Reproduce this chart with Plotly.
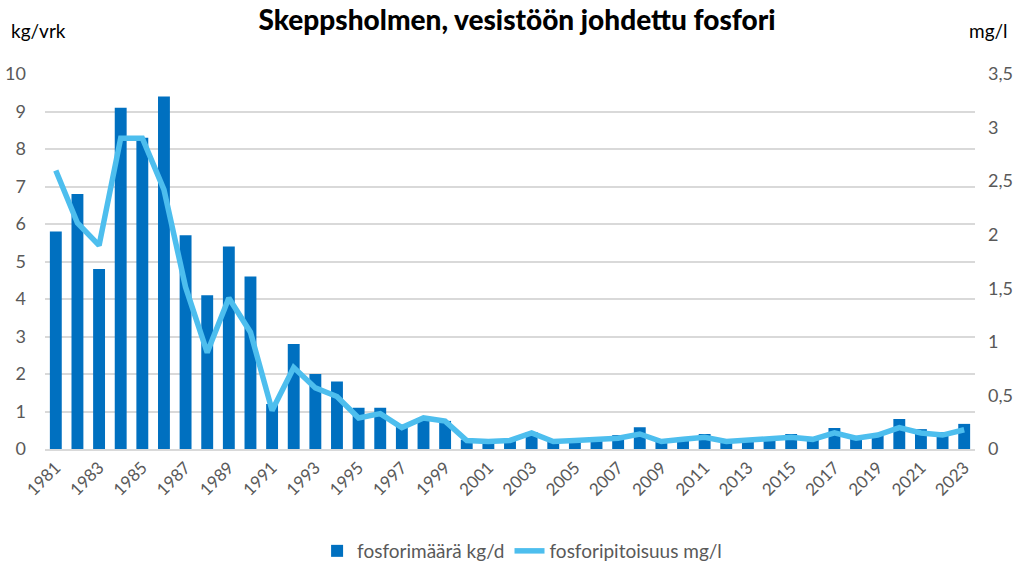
import plotly.graph_objects as go

years = [str(y) for y in range(1981, 2024)]
fosforimaara = [5.8, 6.8, 4.8, 9.1, 8.3, 9.4, 5.7, 4.1, 5.4, 4.6,
                1.2, 2.8, 2.0, 1.8, 1.1, 1.1, 0.65, 0.8, 0.75, 0.25,
                0.2, 0.25, 0.45, 0.2, 0.25, 0.3, 0.37, 0.58, 0.25, 0.3,
                0.4, 0.25, 0.25, 0.3, 0.4, 0.3, 0.56, 0.35, 0.4, 0.8,
                0.53, 0.45, 0.67]
fosforipitoisuus = [2.6, 2.11, 1.9, 2.9, 2.9, 2.42, 1.51, 0.9, 1.41, 1.09,
                    0.36, 0.76, 0.57, 0.49, 0.29, 0.33, 0.2, 0.29, 0.26, 0.08,
                    0.07, 0.08, 0.15, 0.07, 0.08, 0.09, 0.1, 0.14, 0.07, 0.09,
                    0.11, 0.07, 0.08, 0.1, 0.11, 0.09, 0.15, 0.1, 0.13, 0.2,
                    0.15, 0.13, 0.18]
tick_years = [str(y) for y in range(1981, 2024, 2)]

FONT = "Lato"
GRAY = "#595959"

fig = go.Figure()
fig.add_trace(go.Bar(x=years, y=fosforimaara, name="fosforimäärä kg/d",
                     marker=dict(color="#0070C0", line=dict(width=0)), yaxis="y"))
fig.add_trace(go.Scatter(x=years, y=fosforipitoisuus, name="fosforipitoisuus mg/l",
                         mode="lines", line=dict(color="#4DBEEE", width=5.5), yaxis="y2"))

fig.update_layout(
    width=1028, height=568,
    paper_bgcolor="white", plot_bgcolor="white",
    margin=dict(l=45, r=53, t=74, b=119, autoexpand=False),
    separators=", ",
    font=dict(family=FONT, color=GRAY, size=16),
    bargap=0.45,
    title=dict(text="Skeppsholmen, vesistöön johdettu fosfori",
               x=0.503, xanchor="center", y=0.965, yanchor="middle",
               font=dict(family=FONT, size=28, color="black", weight=900)),
    xaxis=dict(type="category", tickmode="array", tickvals=tick_years, ticktext=tick_years,
               tickangle=-45, showgrid=False, showline=True, linecolor="#D9D9D9", linewidth=2,
               ticks="", automargin=False, tickfont=dict(size=17, color=GRAY)),
    yaxis=dict(range=[0, 10], dtick=1, showgrid=True, gridcolor="#D9D9D9", gridwidth=1.5,
               zeroline=False, ticks="", ticklabelstandoff=18, automargin=False,
               tickfont=dict(size=18, color=GRAY)),
    yaxis2=dict(range=[0, 3.5], dtick=0.5, overlaying="y", side="right", showgrid=False,
                zeroline=False, ticks="", ticklabelstandoff=12, automargin=False,
                tickfont=dict(size=18, color=GRAY)),
    legend=dict(orientation="h", x=0.513, xanchor="center", y=-0.272, yanchor="middle",
                font=dict(size=19, color=GRAY), traceorder="normal"),
    annotations=[
        dict(text="kg/vrk", xref="paper", yref="paper", x=-0.0075, y=1.117, xanchor="center",
             yanchor="middle", showarrow=False, font=dict(size=19, color="black")),
        dict(text="mg/l", xref="paper", yref="paper", x=1.015, y=1.117, xanchor="center",
             yanchor="middle", showarrow=False, font=dict(size=19, color="black")),
    ],
)

fig.write_html("out.html", config={"displayModeBar": False},
               post_script="document.body.style.margin='0';")
